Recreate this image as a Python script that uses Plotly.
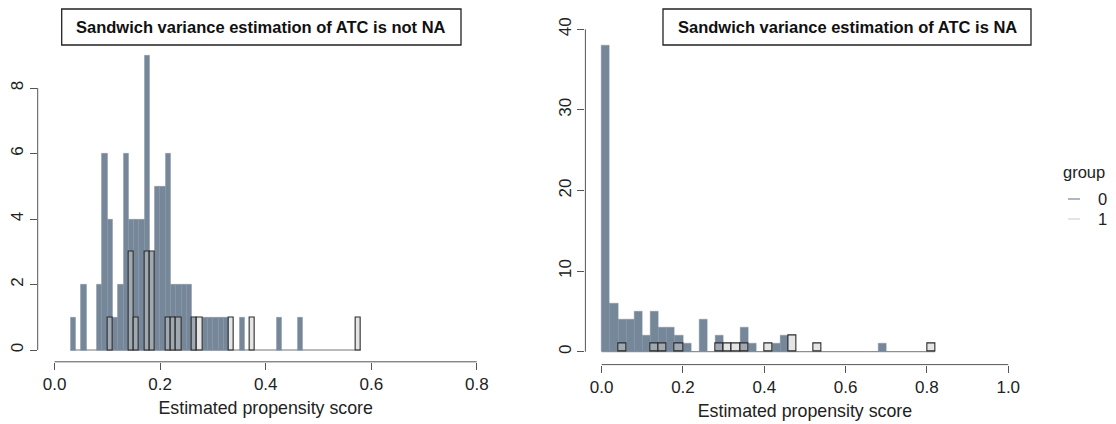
import plotly.graph_objects as go

# ---------------- data ----------------
# Left panel: bins of width 0.01 starting at 0.00 (counts per bin index)
left_bin_width = 0.01
left_group0 = [0, 0, 0, 1, 0, 2, 0, 0, 2, 6,
               4, 1, 2, 6, 4, 4, 4, 9, 3, 5,
               5, 6, 2, 2, 2, 2, 1, 0, 1, 1,
               1, 1, 1, 0, 0, 1, 0, 0, 0, 0,
               0, 0, 1, 0, 0, 0, 1, 0, 0, 0,
               0, 0, 0, 0, 0, 0, 0, 0]
left_group1 = [0, 0, 0, 0, 0, 0, 0, 0, 0, 0,
               1, 0, 0, 0, 3, 1, 0, 3, 3, 0,
               0, 1, 1, 1, 0, 0, 1, 1, 0, 0,
               0, 0, 0, 1, 0, 0, 0, 1, 0, 0,
               0, 0, 0, 0, 0, 0, 0, 0, 0, 0,
               0, 0, 0, 0, 0, 0, 0, 1]
left_xticks = [0.0, 0.2, 0.4, 0.6, 0.8]
left_xticklabels = ["0.0", "0.2", "0.4", "0.6", "0.8"]
left_yticks = [0, 2, 4, 6, 8]
left_title = "Sandwich variance estimation of ATC is not NA"

# Right panel: bins of width 0.02 starting at 0.00
right_bin_width = 0.02
right_group0 = [38, 6, 4, 4, 5, 2, 5, 3, 3, 2,
                1, 0, 4, 0, 2, 0, 0, 3, 1, 0,
                0, 1, 2, 0, 0, 0, 0, 0, 0, 0,
                0, 0, 0, 0, 1, 0, 0, 0, 0, 0,
                0]
right_group1 = [0, 0, 1, 0, 0, 0, 1, 1, 0, 1,
                0, 0, 0, 0, 1, 1, 1, 1, 0, 0,
                1, 0, 0, 2, 0, 0, 1, 0, 0, 0,
                0, 0, 0, 0, 0, 0, 0, 0, 0, 0,
                1]
right_xticks = [0.0, 0.2, 0.4, 0.6, 0.8, 1.0]
right_xticklabels = ["0.0", "0.2", "0.4", "0.6", "0.8", "1.0"]
right_yticks = [0, 10, 20, 30, 40]
right_title = "Sandwich variance estimation of ATC is NA"

x_label = "Estimated propensity score"
legend_title = "group"
group_names = ["0", "1"]

# ---------------- styles ----------------
W, H = 1116, 424
FONT = "Liberation Sans, Arial, sans-serif"
C0 = "#758799"
C0_LINE = "#7d8fa1"
C1 = "rgba(204,204,204,0.5)"
C1_LINE = "#2b2b2b"
AX = "#555555"


def px_x(p):
    return p / W


def px_y(p):
    return (H - p) / H


def bars(counts, width, color, line_color, line_width, xa, ya):
    xs = [(i + 0.5) * width for i, c in enumerate(counts) if c > 0]
    ys = [c for c in counts if c > 0]
    return go.Bar(x=xs, y=ys, width=width, xaxis=xa, yaxis=ya,
                  marker=dict(color=color, line=dict(color=line_color, width=line_width)),
                  showlegend=False, hoverinfo="x+y")


fig = go.Figure()
fig.add_trace(bars(left_group0, left_bin_width, C0, C0_LINE, 0.4, "x", "y"))
fig.add_trace(bars(left_group1, left_bin_width, C1, C1_LINE, 1.1, "x", "y"))
fig.add_trace(bars(right_group0, right_bin_width, C0, C0_LINE, 0.4, "x2", "y2"))
fig.add_trace(bars(right_group1, right_bin_width, C1, C1_LINE, 1.1, "x2", "y2"))

# panel geometry (pixels)
L = dict(x0=37.7, x1=493.7, ytop=43.5, ybot=361.8)
R = dict(x0=585.4, x1=1024.5, ytop=16.4, ybot=364.6)

tickfont = dict(family=FONT, size=17, color="#222222")
titlefont = dict(family=FONT, size=17.8, color="#222222")
common_x = dict(showline=False, showgrid=False, zeroline=False, ticks="outside",
                ticklen=7, tickwidth=1, tickcolor=AX, tickfont=tickfont)
common_y = dict(showline=False, showgrid=False, zeroline=False, ticks="outside",
                ticklen=7, tickwidth=1, tickcolor=AX, tickfont=tickfont, tickangle=-90)

fig.update_layout(
    width=W, height=H, autosize=False,
    margin=dict(l=0, r=0, t=0, b=0),
    paper_bgcolor="white", plot_bgcolor="white",
    barmode="overlay", bargap=0,
    showlegend=False,
    font=dict(family=FONT, color="#222222"),
    xaxis=dict(domain=[px_x(L["x0"]), px_x(L["x1"])], range=[-0.032, 0.832],
               tickvals=left_xticks, ticktext=left_xticklabels, anchor="y",
               title=dict(text=x_label, font=titlefont, standoff=8),
               **common_x),
    yaxis=dict(domain=[px_y(L["ybot"]), px_y(L["ytop"])], range=[-0.36, 9.36],
               tickvals=left_yticks, anchor="x", **common_y),
    xaxis2=dict(domain=[px_x(R["x0"]), px_x(R["x1"])], range=[-0.04, 1.04],
                tickvals=right_xticks, ticktext=right_xticklabels, anchor="y2",
                title=dict(text=x_label, font=titlefont, standoff=8),
                **common_x),
    yaxis2=dict(domain=[px_y(R["ybot"]), px_y(R["ytop"])], range=[-1.6, 41.6],
                tickvals=right_yticks, anchor="x2", **common_y),
)

shapes = []
# R-style axis lines spanning first..last tick
for xref, yref, panel, xt, yt in [("x", "y", L, left_xticks, left_yticks),
                                  ("x2", "y2", R, right_xticks, right_yticks)]:
    shapes.append(dict(type="line", xref=xref, yref="paper", x0=min(xt), x1=max(xt),
                       y0=px_y(panel["ybot"]), y1=px_y(panel["ybot"]),
                       line=dict(color=AX, width=1)))
    shapes.append(dict(type="line", xref="paper", yref=yref, x0=px_x(panel["x0"]), x1=px_x(panel["x0"]),
                       y0=min(yt), y1=max(yt), line=dict(color=AX, width=1)))

# baselines of zero-height bins (from first to last non-empty bin)
for xref, yref, g0, g1, w in [("x", "y", left_group0, left_group1, left_bin_width),
                              ("x2", "y2", right_group0, right_group1, right_bin_width)]:
    nz = [i for i in range(max(len(g0), len(g1)))
          if (i < len(g0) and g0[i] > 0) or (i < len(g1) and g1[i] > 0)]
    shapes.append(dict(type="line", xref=xref, yref=yref, x0=min(nz) * w, x1=(max(nz) + 1) * w,
                       y0=0, y1=0, line=dict(color="#777777", width=1), layer="below"))

# title boxes
boxes = [(61.7, 461.0, left_title), (663.0, 1031.0, right_title)]
annotations = []
for bx0, bx1, txt in boxes:
    shapes.append(dict(type="rect", xref="paper", yref="paper",
                       x0=px_x(bx0), x1=px_x(bx1), y0=px_y(45), y1=px_y(9),
                       line=dict(color="#222222", width=1.3), fillcolor="white"))
    annotations.append(dict(xref="paper", yref="paper", x=px_x((bx0 + bx1) / 2), y=px_y(27),
                            text="<b>" + txt + "</b>", showarrow=False,
                            xanchor="center", yanchor="middle",
                            font=dict(family=FONT, size=16.5, color="#111111")))

# legend (drawn manually, ggplot-like)
annotations.append(dict(xref="paper", yref="paper", x=px_x(1061), y=px_y(172),
                        text=legend_title, showarrow=False, xanchor="left", yanchor="middle",
                        font=dict(family=FONT, size=16.5, color="#222222")))
legend_colors = ["#8191a3", "#d6d6d6"]
for i, (name, col) in enumerate(zip(group_names, legend_colors)):
    yy = 199 + 20 * i
    shapes.append(dict(type="line", xref="paper", yref="paper",
                       x0=px_x(1068), x1=px_x(1080), y0=px_y(yy), y1=px_y(yy),
                       line=dict(color=col, width=1.3)))
    annotations.append(dict(xref="paper", yref="paper", x=px_x(1096), y=px_y(yy),
                            text=name, showarrow=False, xanchor="left", yanchor="middle",
                            font=dict(family=FONT, size=16.5, color="#222222")))

fig.update_layout(shapes=shapes, annotations=annotations)
fig.write_html(
    "out.html",
    config={"displayModeBar": False},
    post_script="document.body.style.margin='0';document.body.style.padding='0';"
                "document.body.style.overflow='hidden';",
)
